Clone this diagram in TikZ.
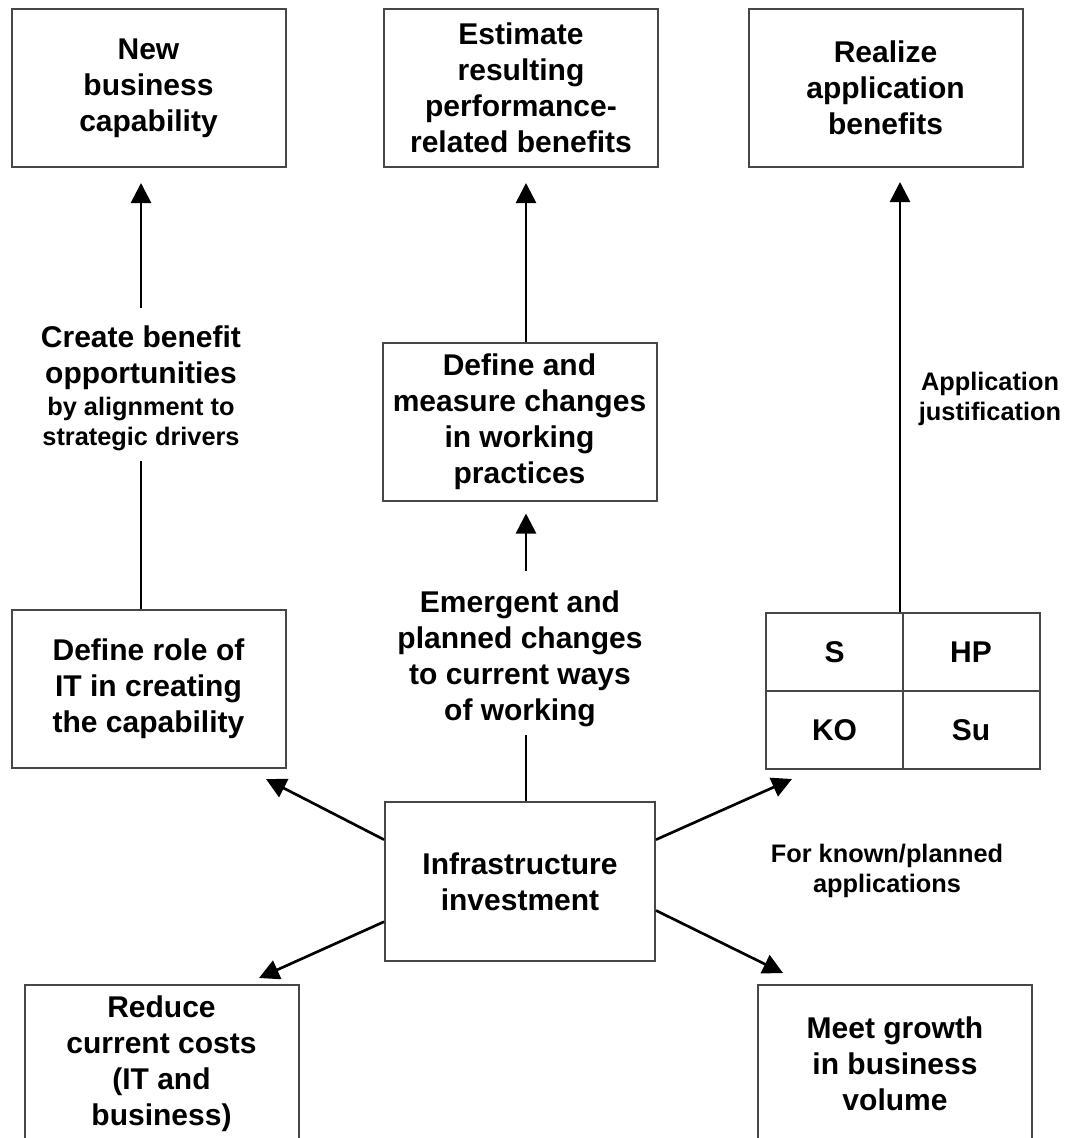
\documentclass[tikz,border=0pt]{standalone}
\usepackage{fontspec}
\setmainfont{Liberation Sans}
\usetikzlibrary{arrows.meta,calc}
\newcommand\bigtxt{\fontsize{22.5pt}{27pt}\selectfont\bfseries}
\newcommand\smalltxt{\fontsize{19pt}{22.5pt}\selectfont\bfseries}
\definecolor{edge}{gray}{0.28}
\tikzset{
  box/.style={draw=edge, line width=1.5pt, align=center, font=\bigtxt,
    inner sep=0pt, minimum width=205.5pt, minimum height=118.5pt},
  cell/.style={draw=edge, line width=1.5pt, font=\bigtxt, inner sep=0pt,
    minimum width=102.75pt, minimum height=58.5pt},
  lbl/.style={align=center, inner sep=0pt},
  ln/.style={line width=2pt},
  arr/.style={line width=2pt, -{Triangle[length=15pt,width=15pt]}}
}
\begin{document}
\begin{tikzpicture}[x=0.75pt,y=-0.75pt]
\useasboundingbox (0,0) rectangle (1065,1138);
\fill[white] (0,0) rectangle (1065,1138);
\clip (0,0) rectangle (1065,1138);

% outcomes along the top
\node[box] (newcap)   at (148.5,88)  {New\\business\\capability};
\node[box] (estimate) at (521,88)    {Estimate\\resulting\\performance-\\related benefits};
\node[box] (realize)  at (885.5,88)  {Realize\\application\\benefits};

% intermediate steps
\node[box] (defmeasure) at (519.5,421.5) {Define and\\measure changes\\in working\\practices};
\node[box] (defrole)    at (148.5,688.5) {Define role of\\IT in creating\\the capability};

% central investment
\node[box, minimum width=202.5pt, minimum height=119.25pt] (infra) at (520,881.5)
  {Infrastructure\\investment};

% application portfolio grid
\node[cell] (cS)  at (834.5,652) {S};
\node[cell] (cHP) at (971,652)   {HP};
\node[cell] (cKO) at (834.5,730) {KO};
\node[cell] (cSu) at (971,730)   {Su};

% lower outcomes
\node[box] (reduce) at (161.5,1063.5) {Reduce\\current costs\\(IT and\\business)};
\node[box] (growth) at (895,1063.5)   {Meet growth\\in business\\volume};

% labels on the connectors
\node[lbl, font=\bigtxt]   (create)    at (141,358)   {Create benefit\\opportunities};
\node[lbl, font=\smalltxt] (createsub) at (141,424.5) {by alignment to\\strategic drivers};
\node[lbl, font=\bigtxt]   (emergent)  at (520,658.5) {Emergent and\\planned changes\\to current ways\\of working};
\node[lbl, font=\smalltxt] (appjust)   at (990,398.5) {Application\\justification};
\node[lbl, font=\smalltxt] (forknown)  at (887,871)   {For known/planned\\applications};

% left column
\draw[ln, shorten >=6.75pt] (defrole.north -| createsub.south) -- (createsub.south);
\draw[arr, shorten <=13.5pt, shorten >=11.25pt] (create.north) -- (create.north |- newcap.south);

% centre column
\coordinate (spine) at ([xshift=4.5pt]infra.north);
\draw[ln, shorten >=6pt] (spine) -- (spine |- emergent.south);
\draw[arr, shorten <=14.25pt, shorten >=9pt] (spine |- emergent.north) -- (spine |- defmeasure.south);
\draw[arr, shorten >=11.25pt] (spine |- defmeasure.north) -- (spine |- estimate.south);

% right column
\coordinate (appline) at ([xshift=-3pt]cS.north east);
\draw[arr, shorten >=10.5pt] (appline) -- (appline |- realize.south);

% diagonal arrows out of the investment box
\coordinate (tipUL) at (266,779);
\coordinate (tipUR) at (792,779);
\coordinate (tipLL) at (259,978);
\coordinate (tipLR) at (783,973);
\draw[arr] ($(infra.north west)!0.24!(infra.south west)$) -- (tipUL);
\draw[arr] ($(infra.north east)!0.24!(infra.south east)$) -- (tipUR);
\draw[arr] ($(infra.north west)!0.75!(infra.south west)$) -- (tipLL);
\draw[arr] ($(infra.north east)!0.68!(infra.south east)$) -- (tipLR);
\end{tikzpicture}
\end{document}
